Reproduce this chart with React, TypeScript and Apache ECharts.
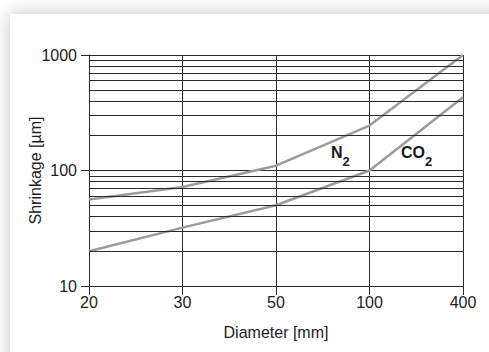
import React, { useEffect, useRef } from "react";
import * as echarts from "echarts";

const diameters = ["20", "30", "50", "100", "400"];
const n2Values = [56, 72, 110, 245, 1000];
const co2Values = [20, 32, 50, 100, 430];
const minorGridValues = [20, 30, 40, 50, 60, 70, 80, 90, 200, 300, 400, 500, 600, 700, 800, 900];
const xAxisName = "Diameter [mm]";
const yAxisName = "Shrinkage [µm]";

const FONT = "'Liberation Sans', Arial, Helvetica, sans-serif";
const GRID_COLOR = "#2a2a2a";
const LINE_COLOR = "#9b9b9b";
const TEXT_COLOR = "#222";

const richLabel = {
  b: { fontFamily: FONT, fontWeight: "bold", fontSize: 16, fill: "#1a1a1a", verticalAlign: "top" },
  s: { fontFamily: FONT, fontWeight: "bold", fontSize: 13, fill: "#1a1a1a", padding: [11, 0, 0, 0] },
};

export default function App() {
  const ref = useRef<HTMLDivElement>(null);
  useEffect(() => {
    if (!ref.current) return;
    const chart = echarts.init(ref.current, null, { renderer: "svg" });
    chart.setOption({
      animation: false,
      backgroundColor: "#ffffff",
      grid: { left: 89, right: 26, top: 55, bottom: 66 },
      graphic: [
        {
          type: "rect",
          z: -10,
          silent: true,
          shape: { x: 10, y: 14, width: 520, height: 380 },
          style: { fill: "#ffffff", shadowBlur: 18, shadowColor: "rgba(0,0,0,0.24)", shadowOffsetX: 0, shadowOffsetY: 0 },
        },
        {
          type: "text",
          x: 331,
          y: 144,
          z: 10,
          style: { text: "{b|N}{s|2}", rich: richLabel },
        },
        {
          type: "text",
          x: 401,
          y: 144,
          z: 10,
          style: { text: "{b|CO}{s|2}", rich: richLabel },
        },
      ],
      xAxis: {
        type: "category",
        data: diameters,
        boundaryGap: false,
        name: xAxisName,
        nameLocation: "middle",
        nameGap: 38,
        nameTextStyle: { fontFamily: FONT, fontSize: 16, color: TEXT_COLOR },
        axisLine: { lineStyle: { color: GRID_COLOR, width: 1 } },
        axisTick: { show: true, length: 9, inside: false, alignWithLabel: true, lineStyle: { color: GRID_COLOR } },
        axisLabel: { fontFamily: FONT, fontSize: 16, color: TEXT_COLOR, margin: 8 },
        splitLine: { show: true, lineStyle: { color: GRID_COLOR, width: 1 } },
      },
      yAxis: {
        type: "log",
        logBase: 10,
        min: 10,
        max: 1000,
        name: yAxisName,
        nameLocation: "middle",
        nameGap: 46,
        nameMoveOverlap: false,
        nameRotate: 90,
        nameTextStyle: { fontFamily: FONT, fontSize: 16, color: TEXT_COLOR },
        axisLine: { show: true, lineStyle: { color: GRID_COLOR, width: 1 } },
        axisTick: { show: true, length: 8, lineStyle: { color: GRID_COLOR } },
        axisLabel: {
          fontFamily: FONT,
          fontSize: 16,
          color: TEXT_COLOR,
          margin: 12,
          formatter: (v: number) => String(Math.round(v)),
        },
        splitLine: { show: true, lineStyle: { color: GRID_COLOR, width: 1 } },
      },
      series: [
        {
          type: "line",
          name: "grid",
          data: [],
          z: 1,
          silent: true,
          markLine: {
            silent: true,
            symbol: ["none", "none"],
            label: { show: false },
            lineStyle: { color: GRID_COLOR, width: 1, type: "solid" },
            emphasis: { disabled: true },
            data: minorGridValues.map((v) => ({ yAxis: v })),
          },
        },
        {
          type: "line",
          name: "N2",
          data: n2Values,
          z: 3,
          symbol: "none",
          lineStyle: { color: LINE_COLOR, width: 2.5 },
        },
        {
          type: "line",
          name: "CO2",
          data: co2Values,
          z: 3,
          symbol: "none",
          lineStyle: { color: LINE_COLOR, width: 2.5 },
        },
      ],
    });
    return () => chart.dispose();
  }, []);
  return (
    <div
      ref={ref}
      style={{ position: "fixed", left: 0, top: 0, width: 489, height: 352 }}
    />
  );
}
